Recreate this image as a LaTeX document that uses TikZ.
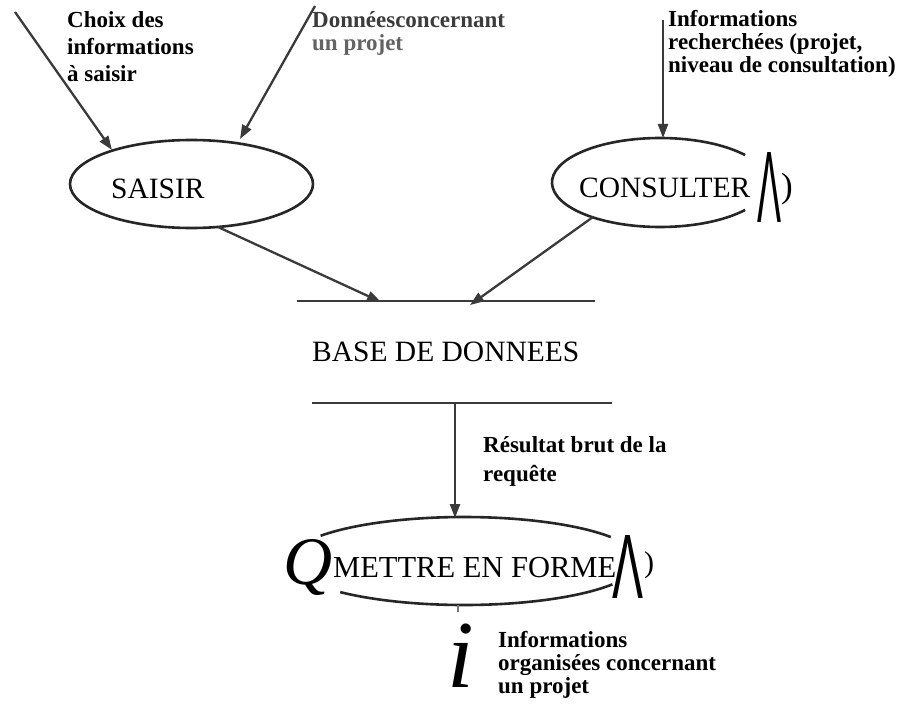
\documentclass[tikz,border=0pt]{standalone}
\usepackage{fontspec}
\setmainfont{Liberation Serif}
\newfontfamily\wedgefont{Liberation Sans}
\usetikzlibrary{arrows.meta}
\definecolor{lin}{HTML}{3A3A3A}
\definecolor{ell}{HTML}{262626}
\definecolor{grey}{HTML}{3C3C3C}
\begin{document}
\begin{tikzpicture}[x=1pt,y=-1pt,
  big/.style={font=\fontsize{29.5}{32}\selectfont, inner sep=0pt, anchor=base west},
  lab/.style={font=\fontsize{23}{25}\selectfont\bfseries, inner sep=0pt, anchor=base west},
  flow/.style={draw=lin, line width=2.3pt, -{Triangle[length=14pt,width=10pt]}},
  bar/.style={draw=lin, line width=2.3pt},
  bubble/.style={draw=ell, line width=2.6pt}]
\useasboundingbox (0,0) rectangle (912,706);
\fill[white] (0,0) rectangle (912,706);

% centres of the bubbles
\coordinate (sc) at (191.5,184);
\coordinate (cc) at (660,182.5);
\coordinate (mc) at (464,561);

% bubbles
\draw[bubble] (sc) ellipse [x radius=121.5, y radius=44];
\draw[bubble] (cc) ++(38:108 and 44.5) arc[start angle=38, end angle=322, x radius=108, y radius=44.5];
\draw[bubble] (mc) ++(215:175 and 44) arc[start angle=215, end angle=327, x radius=175, y radius=44];
\draw[bubble] (mc) ++(32:175 and 44) arc[start angle=32, end angle=135, x radius=175, y radius=44];

% data store bars
\coordinate (db1a) at (297,301);
\coordinate (db1b) at (595,301);
\coordinate (db2a) at (312,403);
\coordinate (db2b) at (612,403);
\draw[bar] (db1a) -- (db1b);
\draw[bar] (db2a) -- (db2b);

% texts
\node[big] (saisir) at (111,198) {SAISIR};
\node[big] (consulter) at (579,197) {CONSULTER};
\node[big] (base) at (312,361) {BASE DE DONNEES};
\node[big, font=\fontsize{30.5}{33}\selectfont] (mettre) at (333,577) {METTRE EN FORME};

% scanning artefacts printed as text
\node[inner sep=0pt, anchor=north west] (w1) at (757,152) {\resizebox{24pt}{70pt}{\wedgefont Λ}};
\node[inner sep=0pt, anchor=base west, font=\fontsize{35}{38}\selectfont] (p1) at (781,197) {)};
\node[inner sep=0pt, anchor=north west] (w2) at (612,535) {\resizebox{31pt}{63pt}{\wedgefont Λ}};
\node[inner sep=0pt, anchor=base west, font=\fontsize{30}{33}\selectfont] (p2) at (644,572) {)};
\node[inner sep=0pt, anchor=base west, font=\fontsize{68}{70}\selectfont\itshape] (q) at (283,584) {Q};
\node[inner sep=2pt, anchor=base west, font=\fontsize{96}{100}\selectfont\itshape] (ii) at (441,687) {\kern4pt i\/\kern2pt};

% labels
\node[lab] (l1a) at (67,28) {Choix des};
\node[lab] (l1b) at (67,55) {informations};
\node[lab] (l1c) at (67,82) {à saisir};
\node[lab, text=grey] (l2a) at (312,28) {Donnéesconcernant};
\node[lab, text=grey!80] (l2b) at (312,51) {un projet};
\node[lab] (l3a) at (668,27) {Informations};
\node[lab] (l3b) at (668,50) {recherchées (projet,};
\node[lab] (l3c) at (668,73) {niveau de consultation)};
\node[lab] (l4a) at (483,452) {Résultat brut de la};
\node[lab] (l4b) at (483,481) {requête};
\node[lab] (l5a) at (498,647) {Informations};
\node[lab] (l5b) at (498,670) {organisées concernant};
\node[lab] (l5c) at (498,693) {un projet};

% connector end points
\coordinate (s1) at (15,12);
\coordinate (t1) at (112,150);
\coordinate (s2) at (315,6);
\coordinate (t2) at (240,139);
\coordinate (s3) at (663,20);
\coordinate (t3) at (663,138);
\coordinate (s4) at (218,227);
\coordinate (t4) at (381,302);
\coordinate (s5) at (593,217);
\coordinate (t5) at (470,305);
\coordinate (s6) at (455,403);
\coordinate (t6) at (455,518);
\coordinate (s7) at (458,605);
\coordinate (t7) at (458,612);

\draw[flow] (s1) -- (t1);
\draw[flow] (s2) -- (t2);
\draw[flow] (s3) -- (t3);
\draw[flow] (s4) -- (t4);
\draw[flow] (s5) -- (t5);
\draw[flow] (s6) -- (t6);
\draw[draw=lin!70, line width=1.5pt] (s7) -- (t7);
\end{tikzpicture}
\end{document}
